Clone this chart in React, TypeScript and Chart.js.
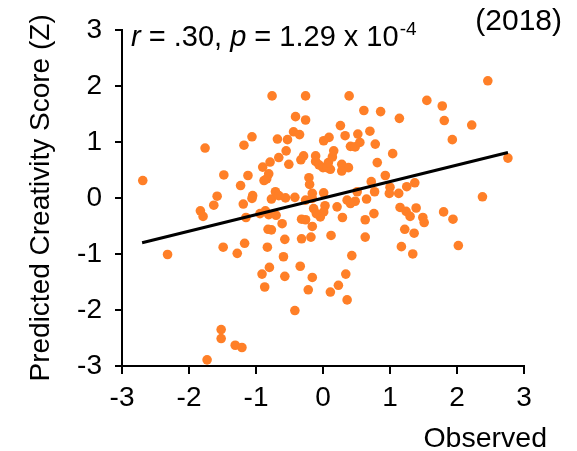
import React, { useEffect, useRef } from "react";
import { Chart, registerables } from "chart.js";

Chart.register(...registerables);

const FONT = "'Liberation Sans', Arial, sans-serif";

const observed = [
  -2.69, -2.32, -1.76, -1.83, -1.79, -1.63, -1.58, -1.48, -1.49, -1.52, -1.52, -1.31, -1.21, -1.73, -1.28, -1.23,
  -0.76, -0.26, -0.41, -0.26, -1.06, -1.18, -0.68, -0.53, -0.44, -0.35, 0.01, 0.09,
  -0.55, -0.66, -0.79, -0.9, -0.51, -0.29, -0.33, -0.11, -0.11, -0.06, 0.0, 0.06, 0.11, 0.08, 0.14, 0.16,
  -1.12, -0.81, -0.84, -0.88, -0.21, -0.2, -1.05, -1.06, -1.19, -0.77, -0.71, -0.66, -0.56, -0.42, -0.26, -0.16, -0.16, 0.01,
  -0.14, 0.03, 0.01, -0.04, -0.1, -1.15, -0.94, -0.86, -0.81, -0.7, -0.61, -0.32, -0.26, -0.16,
  -0.82, -0.77, -0.57, -0.32, -0.18, 0.12, -1.17, -0.83, -0.59, -0.34, -0.8, -0.91, -0.57, -0.16, -0.87, -0.22, 0.11, -0.42,
  0.39, 1.55, 0.61, 0.86, 1.14, 1.78, 1.81, 2.46, 2.22, 1.93, 0.26, 0.33, 0.52, 0.55, 0.7, 0.78, 0.41, 0.48, 1.04,
  0.28, 0.38, 0.28, 0.81, 0.93, 0.72, 1.37, 1.25, 1.0, 0.99, 1.13, 0.77, 0.51, 0.65, 0.36, 0.48, 0.41, 2.38, 2.76,
  0.21, 0.29, 0.63, 0.76, 1.15, 1.24, 1.3, 1.39, 1.49, 1.51, 1.8, 1.94, 1.22, 1.36, 0.63, 1.17, 1.34, 2.02, 0.43, 0.34, 0.23, 0.36,
];

const predicted = [
  0.31, -1.01, 0.89, -0.23, -0.33, -0.13, 0.03, 0.41, -0.88, -2.35, -2.51, -2.63, -2.67, -2.89, -0.99, 0.22,
  1.82, 1.82, 1.45, 1.39, 1.09, 0.94, 1.05, 1.04, 1.18, 1.13, 1.02, 1.08,
  0.84, 0.72, 0.64, 0.55, 0.6, 0.75, 0.68, 0.75, 0.65, 0.59, 0.54, 0.54, 0.51, 0.63, 0.73, 0.84,
  0.4, 0.43, 0.34, 0.31, 0.36, 0.24, 0.04, -0.01, -0.11, -0.02, 0.11, 0.04, 0.0, 0.01, -0.04, 0.08, -0.01, 0.09,
  -0.19, -0.14, -0.25, -0.34, -0.28, -0.35, -0.28, -0.23, -0.3, -0.31, -0.46, -0.38, -0.39, -0.51,
  -0.56, -0.57, -0.74, -0.73, -0.7, -0.67, -0.81, -0.88, -1.05, -1.22, -1.24, -1.36, -1.4, -1.42, -1.59, -1.64, -1.68, -2.01,
  1.82, 1.74, 1.56, 1.54, 1.42, 1.64, 1.38, 2.09, 1.3, 1.04, 1.29, 1.11, 1.14, 0.99, 1.19, 0.96, 0.92, 0.91, 0.79,
  0.6, 0.54, 0.48, 0.63, 0.4, 0.29, 0.27, 0.2, 0.19, 0.08, 0.08, 0.11, 0.11, -0.02, -0.04, -0.06, -0.1, 0.02, 0.71,
  -0.16, -0.35, -0.39, -0.28, -0.17, -0.24, -0.33, -0.18, -0.35, -0.44, -0.25, -0.38, -0.56, -0.63, -0.7, -0.87, -1.0, -0.85, -1.03, -1.36, -1.56, -1.82,
];

const fitX = [-2.7, 2.76];
const fitY = [-0.8, 0.81];

const axisTicks = [-3, -2, -1, 0, 1, 2, 3];
const xTitle = "Observed";
const yTitle = "Predicted Creativity Score (Z)";
const yearLabel = "(2018)";
const statParts = [
  { text: "r", italic: true },
  { text: " = .30, ", italic: false },
  { text: "p", italic: true },
  { text: " = 1.29 x 10", italic: false },
];
const statExponent = "-4";

const textPlugin = {
  id: "textPlugin",
  afterDraw(chart: any) {
    const ctx = chart.ctx;
    ctx.save();
    ctx.fillStyle = "#000";
    ctx.textBaseline = "alphabetic";
    ctx.textAlign = "left";
    let x = 131;
    const y = 46;
    for (const p of statParts) {
      ctx.font = `${p.italic ? "italic " : ""}29px ${FONT}`;
      ctx.fillText(p.text, x, y);
      x += ctx.measureText(p.text).width;
    }
    ctx.font = `19px ${FONT}`;
    ctx.fillText(statExponent, x + 1, y - 11);
    ctx.textAlign = "right";
    ctx.font = `30px ${FONT}`;
    ctx.fillText(yearLabel, 562, 30);
    ctx.font = `28.5px ${FONT}`;
    ctx.fillText(xTitle, 547, 447);
    ctx.restore();
  },
};

export default function App() {
  const ref = useRef<HTMLCanvasElement | null>(null);
  useEffect(() => {
    if (!ref.current) return;
    const points = observed.map((v, i) => ({ x: v, y: predicted[i] }));
    const fit = fitX.map((v, i) => ({ x: v, y: fitY[i] }));
    const tickCfg = {
      color: "#000",
      font: { family: FONT, size: 28 },
      autoSkip: false,
    };
    const chart = new Chart(ref.current, {
      type: "scatter",
      data: {
        datasets: [
          {
            type: "line",
            data: fit,
            borderColor: "#000",
            borderWidth: 3,
            pointRadius: 0,
            showLine: true,
            fill: false,
            order: 0,
          } as any,
          {
            data: points,
            backgroundColor: "rgb(255,127,39)",
            borderWidth: 0,
            pointRadius: 4.8,
            order: 1,
          },
        ],
      },
      options: {
        animation: false,
        responsive: false,
        layout: { padding: { top: 24, right: 53, left: 0, bottom: 0 } },
        plugins: { legend: { display: false }, tooltip: { enabled: false } },
        scales: {
          x: {
            type: "linear",
            min: -3,
            max: 3,
            afterBuildTicks: (s: any) => {
              s.ticks = axisTicks.map((v) => ({ value: v }));
            },
            afterFit: (s: any) => {
              s.height = 85;
            },
            ticks: { ...tickCfg, padding: 7 },
            grid: { drawOnChartArea: false, drawTicks: true, tickLength: 8, color: "#000", lineWidth: 2 },
            border: { display: true, color: "#000", width: 2 },
          },
          y: {
            type: "linear",
            min: -3,
            max: 3,
            afterBuildTicks: (s: any) => {
              s.ticks = axisTicks.map((v) => ({ value: v }));
            },
            afterFit: (s: any) => {
              s.width = 122;
            },
            ticks: { ...tickCfg, padding: 13 },
            grid: { drawOnChartArea: false, drawTicks: true, tickLength: 7, color: "#000", lineWidth: 2 },
            border: { display: true, color: "#000", width: 2 },
            title: {
              display: true,
              text: yTitle,
              color: "#000",
              font: { family: FONT, size: 28 },
              padding: { top: 24, bottom: 0 },
            },
          },
        },
      },
      plugins: [textPlugin],
    });
    return () => chart.destroy();
  }, []);
  return (
    <div style={{ position: "fixed", left: 0, top: 0, width: 577, height: 451, background: "#fff" }}>
      <canvas ref={ref} width={577} height={451} style={{ display: "block" }} />
    </div>
  );
}
